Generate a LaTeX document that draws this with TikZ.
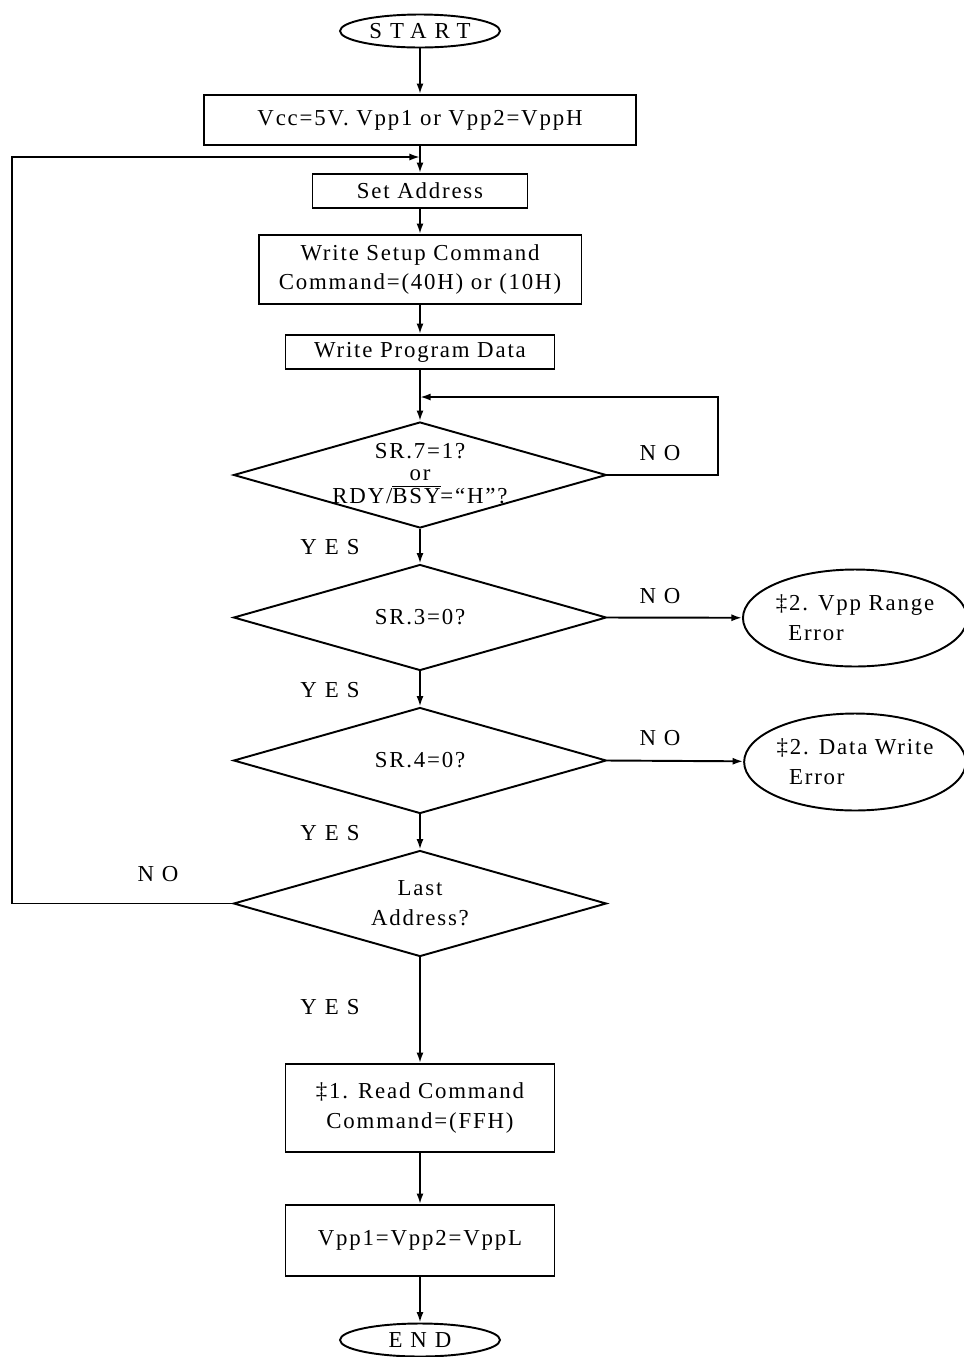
\documentclass[tikz,border=0pt]{standalone}
\usepackage{fontspec}
\setmainfont{Liberation Serif}[LetterSpace=8]
\newfontfamily\spaced{Liberation Serif}[LetterSpace=35]
\usetikzlibrary{shapes.geometric, arrows.meta, positioning}

\begin{document}
\begin{tikzpicture}[x=0.02cm, y=-0.02cm, line width=1.1pt,
    font=\fontsize{13}{17}\selectfont,
    proc/.style={draw, rectangle, inner sep=0pt, align=center},
    dec/.style={draw, diamond, aspect=3.5, inner sep=0pt, align=center,
        minimum width=7.46cm, minimum height=2.12cm},
    term/.style={draw, ellipse, inner sep=0pt, align=center},
    lbl/.style={font=\fontsize{13}{15}\spaced},
    arr/.style={-{Latex[length=6pt,width=4pt]}}]
    \useasboundingbox (0,0) rectangle (964,1357);
    % terminals
    \node[term, minimum width=3.2cm, minimum height=0.66cm, font=\fontsize{13}{15}\spaced] (start) at (420,31) {START};
    \node[term, minimum width=3.2cm, minimum height=0.66cm, font=\fontsize{13}{15}\spaced] (stop) at (420,1340) {END};
    % boxes
    \node[proc, minimum width=8.64cm, minimum height=1cm] (vcc) at (420,120) {Vcc=5V. Vpp1 or Vpp2=VppH};
    \node[proc, minimum width=4.3cm, minimum height=0.68cm] (setaddr) at (420,191) {Set Address};
    \node[proc, minimum width=6.46cm, minimum height=1.38cm] (setup) at (420,269.5) {Write Setup Command\\Command=(40H) or (10H)};
    \node[proc, minimum width=5.38cm, minimum height=0.68cm] (progdata) at (420,352) {Write Program Data};
    \node[proc, minimum width=5.38cm, minimum height=1.76cm] (readcmd) at (420,1108) {\ddag1. Read Command\\Command=(FFH)};
    \node[proc, minimum width=5.38cm, minimum height=1.42cm] (vppl) at (420,1240.5) {Vpp1=Vpp2=VppL};
    % decisions
    \node[dec] (ready) at (420,475) {\makebox[0pt]{\begin{tabular}{@{}c@{}}SR.7=1?\\[-4pt]or\\[-4pt]RDY/$\overline{\mbox{BSY}}$=“H”?\end{tabular}}};
    \node[dec] (sr3) at (420,617.5) {SR.3=0?};
    \node[dec] (sr4) at (420,760.5) {SR.4=0?};
    \node[dec] (last) at (420,903.5) {Last\\Address?};
    % errors
    \node[term, minimum width=4.28cm, minimum height=1.94cm, align=left] (vpperr) at (855,618) {\ddag2. Vpp Range\\\hspace{0.25cm}Error};
    \node[term, minimum width=4.28cm, minimum height=1.94cm, align=left] (wrerr) at (855,762) {\ddag2. Data Write\\\hspace{0.25cm}Error};
    % labels
    \node[lbl] (no1) at (660,453) {NO};
    \node[lbl] (no2) at (660,596) {NO};
    \node[lbl] (no3) at (660,738) {NO};
    \node[lbl] (no4) at (158,874) {NO};
    \node[lbl] (yes1) at (330,547) {YES};
    \node[lbl] (yes2) at (330,690) {YES};
    \node[lbl] (yes3) at (330,833) {YES};
    \node[lbl] (yes4) at (330,1007) {YES};
    % loop points
    \coordinate (join) at (420,157);
    \coordinate (retL) at (12,903.5);
    \coordinate (busyR) at (718,397);
    \coordinate (busyJ) at (420,397);
    % connectors
    \draw[arr] (start) -- (vcc);
    \draw[arr] (vcc) -- (setaddr);
    \draw[arr] (setaddr) -- (setup);
    \draw[arr] (setup) -- (progdata);
    \draw[arr] (progdata) -- (ready);
    \draw[arr] (ready.east) -| (busyR) -- (busyJ);
    \draw[arr] (ready) -- (sr3);
    \draw[arr] (sr3) -- (sr4);
    \draw[arr] (sr4) -- (last);
    \draw[arr] (sr3.east) -- (vpperr);
    \draw[arr] (sr4.east) -- (wrerr);
    \draw[arr] (last.west) -- (retL) |- (join);
    \draw[arr] (last) -- (readcmd);
    \draw[arr] (readcmd) -- (vppl);
    \draw[arr] (vppl) -- (stop);
\end{tikzpicture}
\end{document}
